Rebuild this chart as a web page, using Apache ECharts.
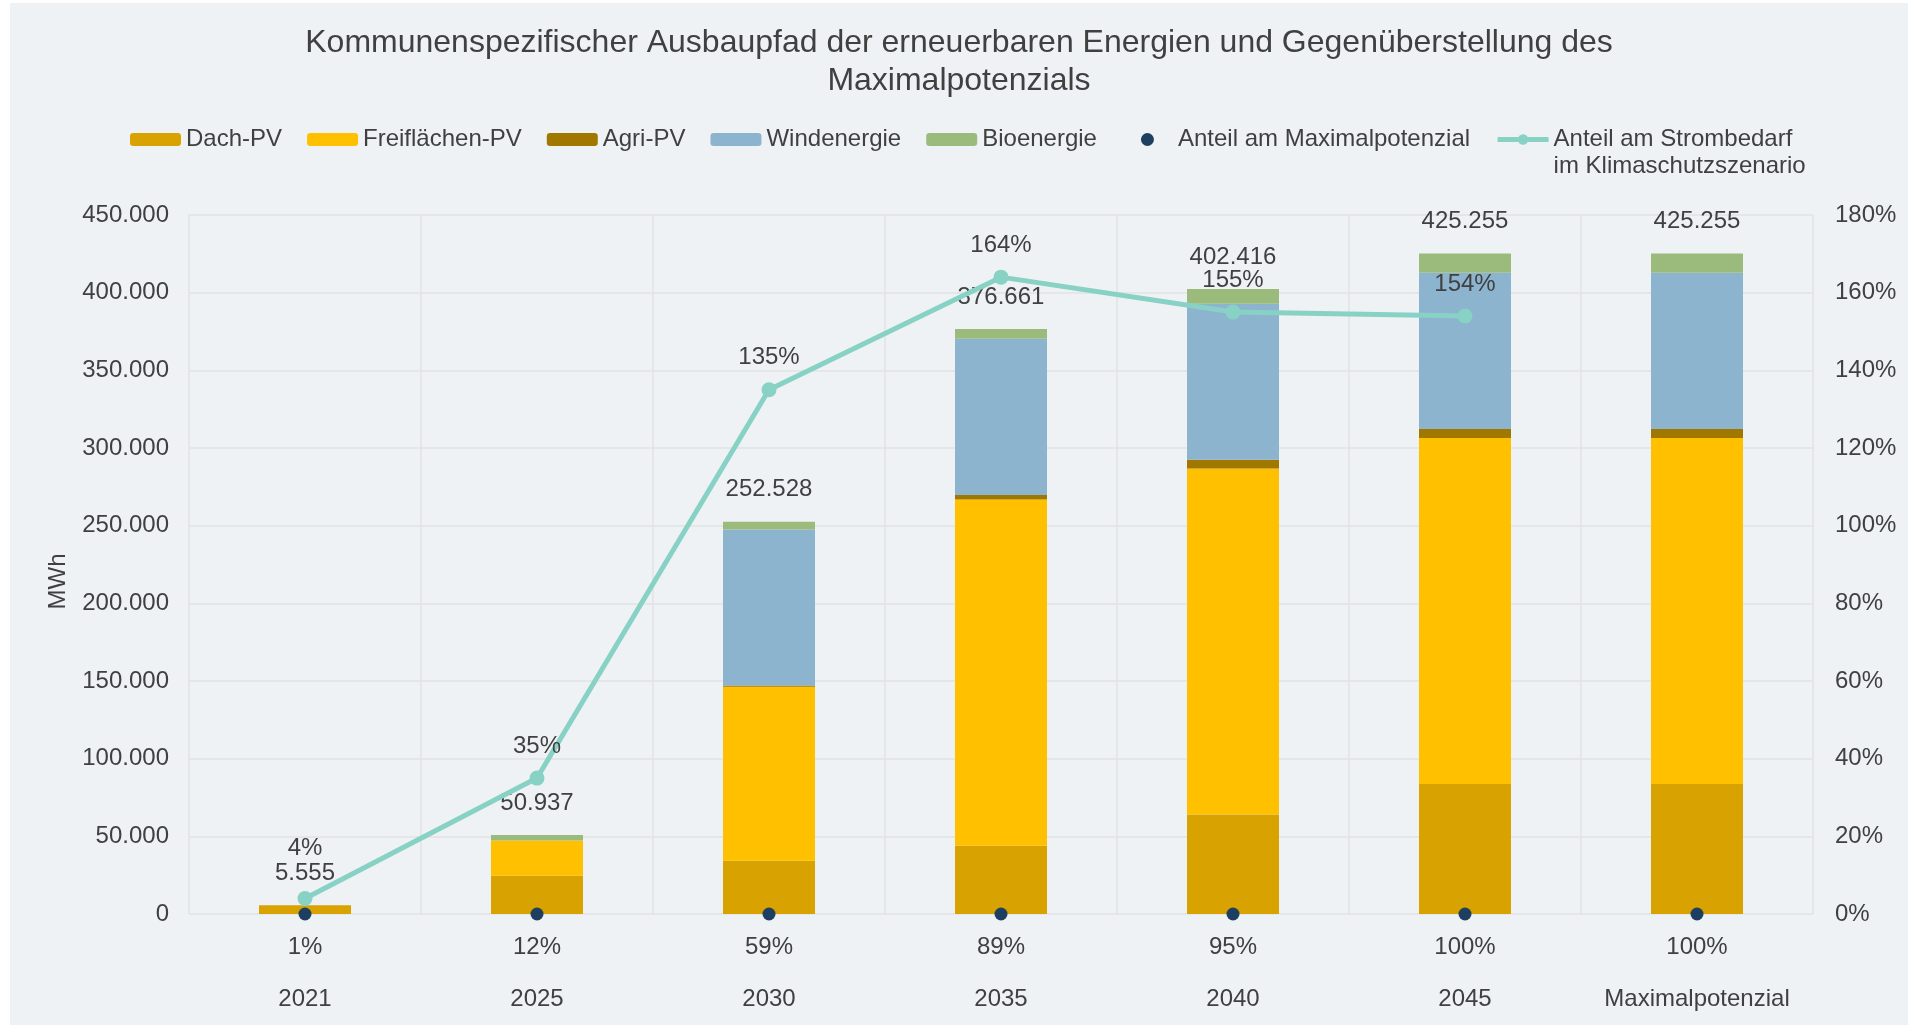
<!DOCTYPE html>
<html><head><meta charset="utf-8">
<script src="https://cdn.jsdelivr.net/npm/echarts@6/dist/echarts.min.js"></script>
<style>html,body{margin:0;padding:0;background:#ffffff;width:1908px;height:1025px;overflow:hidden}
#c{position:absolute;left:10px;top:3px;width:1898px;height:1022px}</style></head>
<body><div id="c"></div>
<script>
const categories = ['2021', '2025', '2030', '2035', '2040', '2045', 'Maximalpotenzial'];
const dachPV = [5555, 24700, 34300, 44000, 64000, 83700, 83700];
const freiPV = [0, 22600, 112000, 222800, 222800, 222800, 222800];
const agriPV = [0, 0, 800, 3000, 5600, 5800, 5800];
const wind = [0, 0, 100500, 100500, 100500, 100500, 100500];
const bio = [0, 3637, 4928, 6361, 9516, 12455, 12455];
const totals = [5555, 50937, 252528, 376661, 402416, 425255, 425255];
const anteilMax = [1, 12, 59, 89, 95, 100, 100];
const anteilStrom = [4, 35, 135, 164, 155, 154, null];

const FONT = '"Liberation Sans", Arial, sans-serif';
const TXT = '#404040';
const de = v => String(v).replace(/\B(?=(\d{3})+(?!\d))/g, '.');
const lineName = 'Anteil am Strombedarf\nim Klimaschutzszenario';
const dotIcon = 'path://M0,0 M51,13 M19,6.5 a6.5,6.5 0 1,0 13,0 a6.5,6.5 0 1,0 -13,0 Z';

const chart = echarts.init(document.getElementById('c'));
const barSeries = (name, data, color) => ({
  name, type: 'bar', stack: 'total', data, barWidth: 92,
  itemStyle: { color }, z: 2
});
chart.setOption({
  backgroundColor: '#EEF2F5',
  animation: false,
  textStyle: { fontFamily: FONT, color: TXT },
  title: {
    text: 'Kommunenspezifischer Ausbaupfad der erneuerbaren Energien und Gegenüberstellung des\nMaximalpotenzials',
    left: 'center', top: 16,
    textStyle: { fontFamily: FONT, fontSize: 32, fontWeight: 'normal', color: TXT, lineHeight: 38 }
  },
  legend: {
    left: 115, top: 91, itemWidth: 51, itemHeight: 13, itemGap: 25,
    textStyle: { fontFamily: FONT, fontSize: 24, color: TXT, lineHeight: 27 },
    formatter: n => n === lineName ? '\n' + n : n,
    data: ['Dach-PV', 'Freiflächen-PV', 'Agri-PV', 'Windenergie', 'Bioenergie',
      { name: 'Anteil am Maximalpotenzial', icon: dotIcon, itemStyle: { color: '#1F3F60', opacity: 1 } },
      { name: lineName, lineStyle: { width: 5, color: '#88D1C5' }, itemStyle: { color: '#88D1C5' } }]
  },
  grid: { left: 179, right: 95, top: 212, bottom: 111 },
  xAxis: {
    type: 'category', data: categories,
    axisLine: { show: false }, axisTick: { show: false },
    axisLabel: { fontSize: 24, color: TXT, margin: 73, interval: 0 },
    splitLine: { show: true, lineStyle: { color: '#E2E2E2', width: 1.5 } }
  },
  yAxis: [{
    type: 'value', min: 0, max: 450000, interval: 50000,
    name: 'MWh', nameLocation: 'middle', nameGap: 119,
    nameTextStyle: { fontSize: 24, color: TXT, padding: [0, 0, 0, -34] },
    axisLine: { show: false }, axisTick: { show: false },
    axisLabel: { fontSize: 24, color: TXT, margin: 20, formatter: v => de(v) },
    splitLine: { lineStyle: { color: '#E2E2E2', width: 1.5 } }
  }, {
    type: 'value', min: 0, max: 180, interval: 20,
    axisLine: { show: false }, axisTick: { show: false },
    axisLabel: { fontSize: 24, color: TXT, margin: 22, formatter: v => v + '%' },
    splitLine: { show: false }
  }],
  series: [
    barSeries('Dach-PV', dachPV, '#D8A200'),
    barSeries('Freiflächen-PV', freiPV, '#FFC000'),
    barSeries('Agri-PV', agriPV, '#A07800'),
    barSeries('Windenergie', wind, '#8DB4CF'),
    barSeries('Bioenergie', bio, '#9BBB7C'),
    {
      name: 'Gesamt', type: 'scatter', data: totals, symbolSize: 1,
      itemStyle: { color: 'rgba(0,0,0,0)', opacity: 1 }, z: 5, silent: true,
      label: { show: true, position: 'inside', offset: [0, -32], fontSize: 24, color: TXT,
        fontFamily: FONT, formatter: p => de(p.value) }
    },
    {
      name: lineName, type: 'line', yAxisIndex: 1, z: 6,
      data: anteilStrom.map((v, i) => i === 0 ? { value: v, label: { offset: [0, -50] } } : v),
      symbol: 'circle', symbolSize: 15, showSymbol: true,
      lineStyle: { color: '#88D1C5', width: 5 }, itemStyle: { color: '#88D1C5' },
      label: { show: true, position: 'inside', offset: [0, -32], fontSize: 24, color: TXT,
        fontFamily: FONT, formatter: p => p.value + '%' }
    },
    {
      name: 'Anteil am Maximalpotenzial', type: 'scatter', clip: false, z: 7,
      data: anteilMax.map((p, i) => [i, 0, p]), symbolSize: 13,
      itemStyle: { color: '#1F3F60', opacity: 1 },
      label: { show: true, position: 'inside', offset: [0, 33], fontSize: 24, color: TXT,
        fontFamily: FONT, formatter: p => p.value[2] + '%' }
    }
  ]
});
</script></body></html>
